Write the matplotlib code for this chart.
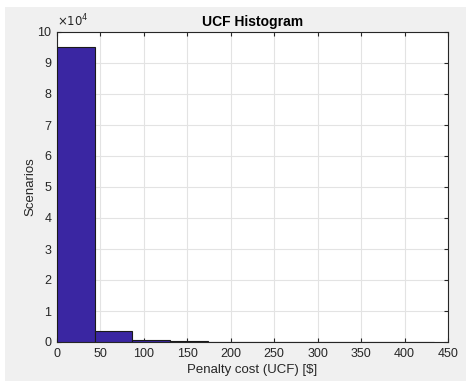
import numpy as np
import matplotlib.pyplot as plt
from matplotlib.patches import Rectangle

# histogram bins (10 bins, 0 .. ~434 $)
bin_edges = [0, 43.4, 86.8, 130.2, 173.6, 217.0, 260.4, 303.8, 347.2, 390.6, 434.0]
counts = [95200, 3550, 750, 250, 110, 60, 35, 20, 10, 5]

xticks = [0, 50, 100, 150, 200, 250, 300, 350, 400, 450]
yticks = [0, 1, 2, 3, 4, 5, 6, 7, 8, 9, 10]

plt.rcParams['font.family'] = ['Liberation Sans', 'DejaVu Sans']

fig = plt.figure(figsize=(4.66, 3.83), dpi=100, facecolor='white')
# matlab grey window area (small white strip at left/top/bottom)
fig.patches.append(Rectangle((5 / 466, 2 / 383), 1, 374 / 383, transform=fig.transFigure,
                             facecolor='#f0f0f0', edgecolor='none', zorder=-10))

ax = fig.add_axes([57 / 466, 41 / 383, 391 / 466, 310 / 383])
centers = [(a + b) / 2 for a, b in zip(bin_edges[:-1], bin_edges[1:])]
ax.hist(centers, bins=bin_edges, weights=counts, color='#3a26a2',
        edgecolor='#1a1a1a', linewidth=0.8, zorder=3)

ax.set_xlim(0, 450)
ax.set_ylim(0, 100000)
ax.set_xticks(xticks)
ax.set_yticks([v * 1e4 for v in yticks])
ax.set_yticklabels([str(v) for v in yticks])
ax.grid(True, color='#e3e3e3', linewidth=0.8, zorder=0)
ax.tick_params(direction='in', length=3, labelsize=9, colors='#262626', pad=4,
               top=True, right=True, labeltop=False, labelright=False)
for s in ax.spines.values():
    s.set_color('#262626')
    s.set_linewidth(0.8)

ax.text(0.0, 1.008, r'$\times10^{4}$', transform=ax.transAxes, fontsize=8.5,
        color='#262626', ha='left', va='bottom')
ax.set_title('UCF Histogram', fontsize=10, fontweight='bold', pad=4)
ax.set_xlabel('Penalty cost (UCF) [$]', fontsize=9.5, color='#262626', labelpad=3)
ax.set_ylabel('Scenarios', fontsize=9.5, color='#262626', labelpad=1)

fig.savefig('out.png', dpi=100, facecolor=fig.get_facecolor())
